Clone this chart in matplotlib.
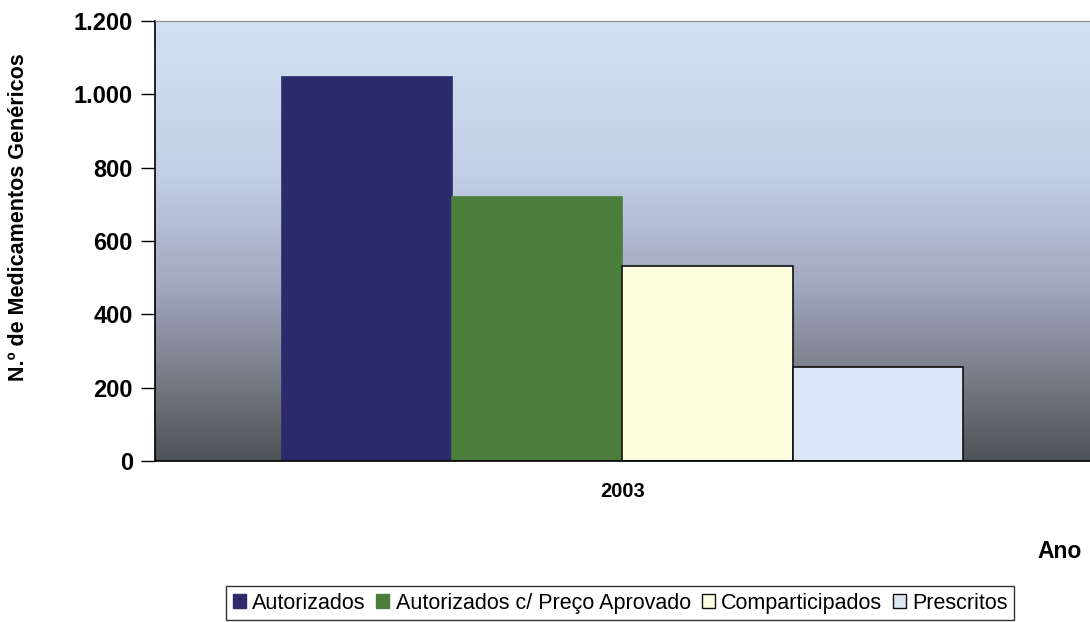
import numpy as np
import matplotlib.pyplot as plt
from matplotlib.colors import LinearSegmentedColormap
from matplotlib.patches import Patch

plt.rcParams['font.family'] = ['Liberation Sans', 'DejaVu Sans']

# data
year = '2003'
series = ['Autorizados', 'Autorizados c/ Preço Aprovado', 'Comparticipados', 'Prescritos']
values = [1047, 720, 532, 256]
colors = ['#2b2b6b', '#4b7d3b', '#fdfde0', '#dce8f7']
edges = ['#2b2b6b', '#4b7d3b', '#111111', '#111111']

fig = plt.figure(figsize=(10.9, 6.22), dpi=100)
ax = fig.add_axes([0.1422, 0.2588, 0.8578, 0.7074])

# vertical gradient background (light blue top -> dark grey bottom)
bg = LinearSegmentedColormap.from_list('bg', [
    (0.0, '#4e5356'), (0.18, '#757b84'), (0.4, '#a2a8c0'),
    (0.65, '#c2cfe6'), (1.0, '#d2e2f2')])
grad = np.linspace(0, 1, 256).reshape(-1, 1)
ax.imshow(grad, cmap=bg, aspect='auto', origin='lower',
          extent=[-1, 1, 0, 1200], zorder=0)

width = 0.364
n = len(values)
for i, (v, c, e) in enumerate(zip(values, colors, edges)):
    x = (i - (n - 1) / 2) * width
    ax.bar(x, v, width=width, color=c, edgecolor=e, linewidth=1.2, zorder=2)

ax.set_xlim(-1, 1)
ax.set_ylim(0, 1200)
ax.set_yticks(range(0, 1201, 200))
ax.set_yticklabels(['0', '200', '400', '600', '800', '1.000', '1.200'],
                   fontsize=17, fontweight='bold')
ax.set_xticks([0])
ax.set_xticklabels([year], fontsize=14.5, fontweight='bold')
ax.tick_params(axis='x', length=0, pad=15)
ax.tick_params(axis='y', length=10, width=1, pad=6)
ax.set_ylabel('N.º de Medicamentos Genéricos', fontsize=15.5, fontweight='bold')
ax.yaxis.set_label_coords(-0.135, 0.555)

ax.spines['right'].set_visible(False)
ax.spines['top'].set_color('#8a8a9a')
ax.spines['left'].set_linewidth(1.2)
ax.spines['bottom'].set_linewidth(1.2)

fig.text(0.992, 0.113, 'Ano', ha='right', va='center', fontsize=16.5, fontweight='bold')

handles = [Patch(facecolor=c, edgecolor=e if e != c else c) for c, e in zip(colors, edges)]
leg = fig.legend(handles, series, loc='center', bbox_to_anchor=(0.569, 0.0305),
                 ncol=4, fontsize=15.5, frameon=True, fancybox=False,
                 handlelength=0.6, handleheight=0.6, handletextpad=0.3,
                 columnspacing=0.5, borderpad=0.3, edgecolor='black')
leg.get_frame().set_linewidth(1.0)

fig.savefig('out.png', dpi=100)
